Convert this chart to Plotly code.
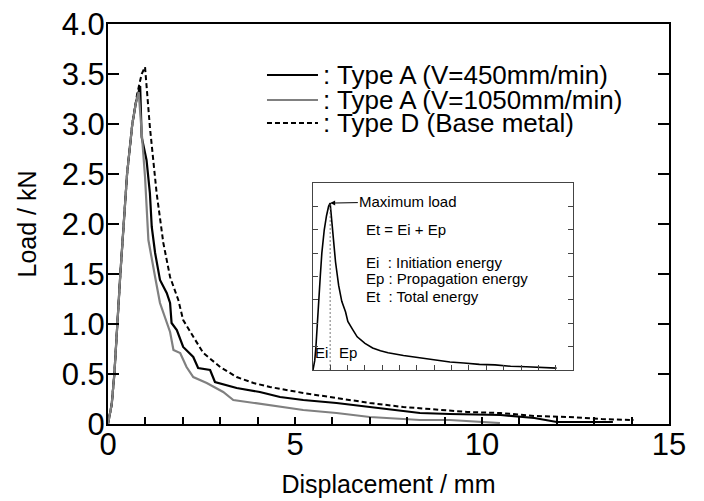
import plotly.graph_objects as go

# ---- data ----
a450_x = [0, 0.1, 0.17, 0.24, 0.33, 0.42, 0.51, 0.65, 0.75, 0.86, 0.90, 1.03, 1.12, 1.17, 1.26, 1.39,
          1.57, 1.66, 1.70, 1.84, 2.01, 2.28, 2.41, 2.73, 2.86, 3.44, 4.06, 4.6, 5.22, 6.11, 7.0, 7.9,
          8.34, 9.14, 10.5, 11.4, 12.0, 13.2, 13.5]
a450_y = [0, 0.2, 0.5, 1.0, 1.5, 2.0, 2.5, 3.0, 3.22, 3.38, 2.87, 2.64, 2.31, 1.97, 1.71, 1.44,
          1.31, 1.21, 1.01, 0.94, 0.77, 0.67, 0.56, 0.54, 0.42, 0.36, 0.32, 0.27, 0.24, 0.21, 0.17, 0.13,
          0.11, 0.10, 0.09, 0.06, 0.02, 0.02, 0.02]

a1050_x = [0, 0.1, 0.17, 0.24, 0.33, 0.42, 0.51, 0.65, 0.74, 0.82, 0.90, 0.99, 1.08, 1.17, 1.26, 1.39,
           1.57, 1.66, 1.75, 1.93, 2.10, 2.28, 2.64, 3.08, 3.35, 3.89, 4.6, 5.22, 6.11, 7.0, 7.9, 8.34,
           9.14, 10.03, 10.48]
a1050_y = [0, 0.2, 0.5, 1.0, 1.5, 2.0, 2.5, 3.0, 3.2, 3.32, 2.87, 2.47, 1.84, 1.64, 1.47, 1.21,
           1.01, 0.92, 0.74, 0.71, 0.57, 0.47, 0.41, 0.32, 0.24, 0.21, 0.17, 0.14, 0.11, 0.07, 0.05, 0.04,
           0.04, 0.02, 0.01]

d_x = [0, 0.1, 0.17, 0.24, 0.33, 0.42, 0.51, 0.65, 0.78, 0.9, 0.99, 1.12, 1.30, 1.48, 1.66, 1.88,
       2.01, 2.3, 2.55, 3.0, 3.44, 3.89, 4.33, 5.22, 6.11, 7.0, 7.9, 8.7, 9.6, 10.5, 11.4, 12.3, 13.2, 14.05]
d_y = [0, 0.2, 0.5, 1.0, 1.5, 2.0, 2.5, 3.0, 3.3, 3.5, 3.57, 2.97, 2.31, 1.81, 1.47, 1.24,
       1.04, 0.86, 0.71, 0.57, 0.47, 0.41, 0.37, 0.31, 0.26, 0.21, 0.17, 0.15, 0.12, 0.11, 0.08, 0.07, 0.05, 0.04]

y_tickvals = [0, 0.5, 1.0, 1.5, 2.0, 2.5, 3.0, 3.5, 4.0]
y_ticktext = ["0", "0.5", "1.0", "1.5", "2.0", "2.5", "3.0", "3.5", "4.0"]
x_tickvals = [0, 5, 10, 15]

legend_names = [": Type A (V=450mm/min)", ": Type A (V=1050mm/min)", ": Type D (Base metal)"]
legend_colors = ["black", "#808080", "black"]
legend_dash = ["solid", "solid", "5px,3px"]

NB = "\u00a0"
FONT = "Liberation Sans, Arial, sans-serif"

fig = go.Figure()

# main curves
fig.add_trace(go.Scatter(x=d_x, y=d_y, mode="lines",
                         line=dict(color="black", width=2, dash="5px,3px"), showlegend=False))
fig.add_trace(go.Scatter(x=a450_x, y=a450_y, mode="lines",
                         line=dict(color="black", width=2.2), showlegend=False))
fig.add_trace(go.Scatter(x=a1050_x, y=a1050_y, mode="lines",
                         line=dict(color="#808080", width=2.2), showlegend=False))

# inset: schematic curve (type D shape)
fig.add_trace(go.Scatter(x=d_x, y=d_y, mode="lines", xaxis="x2", yaxis="y2",
                         line=dict(color="black", width=1.6), showlegend=False))
ipk = max(range(len(d_y)), key=lambda i: d_y[i])
fig.add_trace(go.Scatter(x=[d_x[ipk], d_x[ipk]], y=[0, d_y[ipk]], mode="lines", xaxis="x2", yaxis="y2",
                         line=dict(color="#555555", width=0.8, dash="2px,2px"), showlegend=False))

annotations = []
shapes = []
# manual legend
leg_y = [0.8725, 0.81, 0.7525]
for name, col, dsh, yy in zip(legend_names, legend_colors, legend_dash, leg_y):
    shapes.append(dict(type="line", xref="paper", yref="paper", x0=0.2834, x1=0.3743, y0=yy, y1=yy,
                       line=dict(color=col, width=2.2, dash=dsh)))
    annotations.append(dict(xref="paper", yref="paper", x=0.380, y=yy, text=name, showarrow=False,
                            xanchor="left", yanchor="middle", font=dict(size=26, color="black", family=FONT)))

# inset texts
inset_font = dict(size=15, color="black", family=FONT)
annotations.append(dict(xref="x2", yref="y2", x=d_x[ipk], y=d_y[ipk], axref="x2", ayref="y2",
                        ax=5.5, ay=3.6, text="Maximum load", showarrow=True, arrowhead=2,
                        arrowsize=1, arrowwidth=1, arrowcolor="black", font=inset_font))
for txt, yy in [("Et = Ei + Ep", 3.0),
                ("Ei" + NB + NB + ": Initiation energy", 2.31),
                ("Ep : Propagation energy", 1.95),
                ("Et" + NB + NB + ": Total energy", 1.58)]:
    annotations.append(dict(xref="x2", yref="y2", x=2.95, y=yy, text=txt, showarrow=False,
                            xanchor="left", yanchor="middle", font=inset_font))
annotations.append(dict(xref="x2", yref="y2", x=0.0, y=0.38, text="Ei", showarrow=False,
                        xanchor="left", yanchor="middle", font=inset_font))
annotations.append(dict(xref="x2", yref="y2", x=1.38, y=0.38, text="Ep", showarrow=False,
                        xanchor="left", yanchor="middle", font=inset_font))

# page body has an 8px margin, so the figure is 8px smaller and margins shifted accordingly
fig.update_layout(
    width=696, height=493, autosize=False,
    margin=dict(l=100, r=35, t=16, b=77),
    paper_bgcolor="white", plot_bgcolor="white",
    font=dict(family=FONT, color="black"),
    showlegend=False,
    xaxis=dict(range=[0, 15], domain=[0, 1], showline=True, linewidth=2, linecolor="black", mirror=True,
               ticks="inside", ticklen=7, tickwidth=1.5, tickcolor="black",
               tickvals=x_tickvals, tickfont=dict(size=31), automargin=False, ticklabelstandoff=-8,
               ticklabeloverflow="allow",
               minor=dict(dtick=1, ticks="inside", ticklen=7, tickwidth=1.5, tickcolor="black"),
               showgrid=False, zeroline=False,
               title=dict(text="Displacement / mm", font=dict(size=25), standoff=14)),
    yaxis=dict(range=[0, 4], domain=[0, 1], showline=True, linewidth=2, linecolor="black", mirror="ticks",
               ticks="inside", ticklen=11, tickwidth=1.5, tickcolor="black",
               tickvals=y_tickvals, ticktext=y_ticktext, tickfont=dict(size=31), automargin=False,
               ticklabelstandoff=-5, ticklabeloverflow="allow",
               showgrid=False, zeroline=False,
               title=dict(text="Load / kN", font=dict(size=25), standoff=18)),
    xaxis2=dict(domain=[0.3654, 0.8289], anchor="y2", range=[0, 15], showline=True, linewidth=1,
                linecolor="#444444", mirror=True, ticks="inside", ticklen=5, tickwidth=1, tickcolor="#444444",
                dtick=1, showticklabels=False, showgrid=False, zeroline=False),
    yaxis2=dict(domain=[0.135, 0.6025], anchor="x2", range=[0, 4], showline=True, linewidth=1,
                linecolor="#444444", mirror="ticks", ticks="inside", ticklen=5, tickwidth=1, tickcolor="#444444",
                dtick=0.5, showticklabels=False, showgrid=False, zeroline=False),
    annotations=annotations, shapes=shapes,
)

fig.write_html("out.html")
